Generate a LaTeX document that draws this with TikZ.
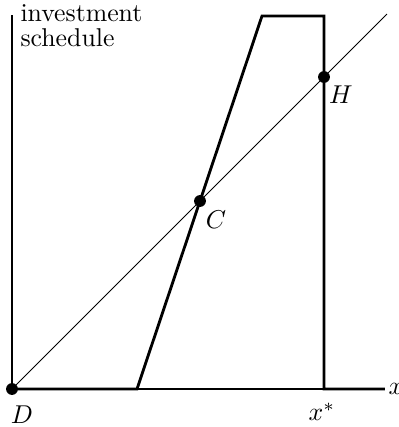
\documentclass[tikz,border=0pt]{standalone}
\begin{document}
\begin{tikzpicture}[x=0.388pt,y=-0.388pt,
  axis/.style={line width=0.4pt},
  curve/.style={line width=1.1pt,line join=miter},
  dot/.style={circle,fill=black,inner sep=0pt,minimum size=4.6pt},
  lbl/.style={inner sep=0pt}]
\useasboundingbox (0,0) rectangle (399,427);
% axes
\coordinate (top) at (12,15);
\node[dot] (D) at (12,389) {};
\coordinate (xend) at (385,389);
\draw[axis] (top) -- (D.center) -- (xend);
\node[lbl,anchor=west] (xl) at (388,389) {$x$};
% diagonal
\coordinate (diag) at (387,14);
\draw[axis] (D.center) -- (diag);
% investment schedule
\coordinate (p1) at (137,389);
\coordinate (p2) at (262,16);
\coordinate (p3) at (324,16);
\coordinate (p4) at (324,389);
\draw[curve] (D.center) -- (p1) -- (p2) -- (p3) -- (p4) -- (xend);
\node[dot] (C) at (200,201) {};
\node[dot] (H) at (324,77) {};
% labels
\node[lbl] (Dl) at (22,415) {$D$};
\node[lbl] (Cl) at (216,220) {$C$};
\node[lbl] (Hl) at (341,95) {$H$};
\node[lbl] (xs) at (322,412) {$x^*$};
\node[lbl,anchor=north west,align=left] (title) at (20,4) {investment\\[-2.3pt]schedule};
\end{tikzpicture}
\end{document}
